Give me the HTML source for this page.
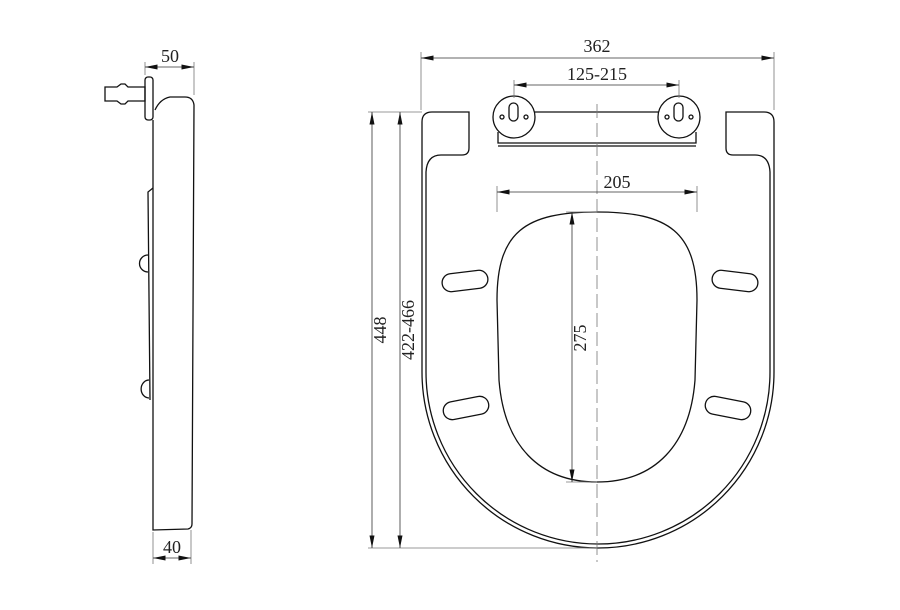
<!DOCTYPE html>
<html><head><style>body{margin:0;background:#fff}svg{display:block}text{font-family:"Liberation Serif",serif;font-size:18px;fill:#222}</style></head>
<body>
<svg width="900" height="610" viewBox="0 0 900 610" xmlns="http://www.w3.org/2000/svg">
<defs>
<marker id="a" viewBox="0 0 10 4" refX="10" refY="2" markerWidth="14" markerHeight="5" orient="auto-start-reverse" markerUnits="userSpaceOnUse"><path d="M0,0L10,2L0,4Z" fill="#111"/></marker>
</defs>
<g fill="none" stroke="#111" stroke-width="1.3">
<rect x="145" y="77" width="8" height="43" rx="3"/>
<path d="M105,87h12l4,-3h4l3,3h17v14h-17l-3,3h-4l-4,-3h-12z"/>
<path d="M153,120 L153,530 L188,529 Q192,528 192,524 L194,105 Q193,97 185,97 L170,97 Q160,99 155,110"/>
<path d="M153,188 L148,192 L150,400"/>
<path d="M148,255 A7,7 0 0 0 148,272"/>
<path d="M149,380 A7,8 0 0 0 149,398"/>
<path d="M469,112 L432,112 Q422,112 422,122 L422,372 A176,176 0 0 0 774,372 L774,122 Q774,112 764,112 L726,112 L726,148 Q726,155 733,155 L755,155 Q769,155 770,172 L770,372 A172,172 0 0 1 426,372 L426,172 Q427,155 441,155 L462,155 Q469,155 469,148 Z"/>
<path d="M534,112 L660,112"/>
<path d="M498,132 L498,143 L696,143 L696,132"/>
<path d="M498,146 L696,146"/>
<circle cx="514" cy="117" r="21" fill="#fff"/>
<circle cx="679" cy="117" r="21" fill="#fff"/>
<rect x="509" y="103" width="9" height="18" rx="4.5"/>
<rect x="674" y="103" width="9" height="18" rx="4.5"/>
<circle cx="502" cy="117" r="2"/><circle cx="526" cy="117" r="2"/>
<circle cx="667" cy="117" r="2"/><circle cx="691" cy="117" r="2"/>
<path d="M497,300 C497,232 525,212 597,212 C669,212 697,232 697,300 L695,380 C690,445 655,482 597,482 C539,482 504,445 499,380 Z"/>
<rect x="442" y="272" width="46" height="18" rx="9" transform="rotate(-7 465 281)"/>
<rect x="712" y="272" width="46" height="18" rx="9" transform="rotate(7 735 281)"/>
<rect x="443" y="399" width="46" height="18" rx="9" transform="rotate(-11 466 408)"/>
<rect x="705" y="399" width="46" height="18" rx="9" transform="rotate(11 728 408)"/>
</g>
<g fill="none" stroke="#777" stroke-width="0.8">
<path d="M597,104 V562" stroke-dasharray="14,5"/>
<path d="M421,110V52M774,110V52M514,98V80M679,98V80M497,212V186M697,212V186"/>
<path d="M368,112H422M368,548H597M566,212H597M566,482H597"/>
<path d="M145,75V62M194,95V62M153,532V564M191,530V564"/>
</g>
<g stroke="#333" stroke-width="0.8" marker-start="url(#a)" marker-end="url(#a)">
<line x1="421" y1="58" x2="774" y2="58"/>
<line x1="514" y1="85" x2="679" y2="85"/>
<line x1="497" y1="192" x2="697" y2="192"/>
<line x1="572" y1="212" x2="572" y2="482"/>
<line x1="372" y1="112" x2="372" y2="548"/>
<line x1="400" y1="112" x2="400" y2="548"/>
<line x1="145" y1="67" x2="194" y2="67"/>
<line x1="153" y1="558" x2="191" y2="558"/>
</g>
<text x="597" y="52" text-anchor="middle">362</text>
<text x="597" y="80" text-anchor="middle">125-215</text>
<text x="617" y="188" text-anchor="middle">205</text>
<text x="170" y="62" text-anchor="middle">50</text>
<text x="172" y="553" text-anchor="middle">40</text>
<text transform="translate(586,338) rotate(-90)" text-anchor="middle">275</text>
<text transform="translate(386,330) rotate(-90)" text-anchor="middle">448</text>
<text transform="translate(414,330) rotate(-90)" text-anchor="middle">422-466</text>
</svg>
</body></html>
